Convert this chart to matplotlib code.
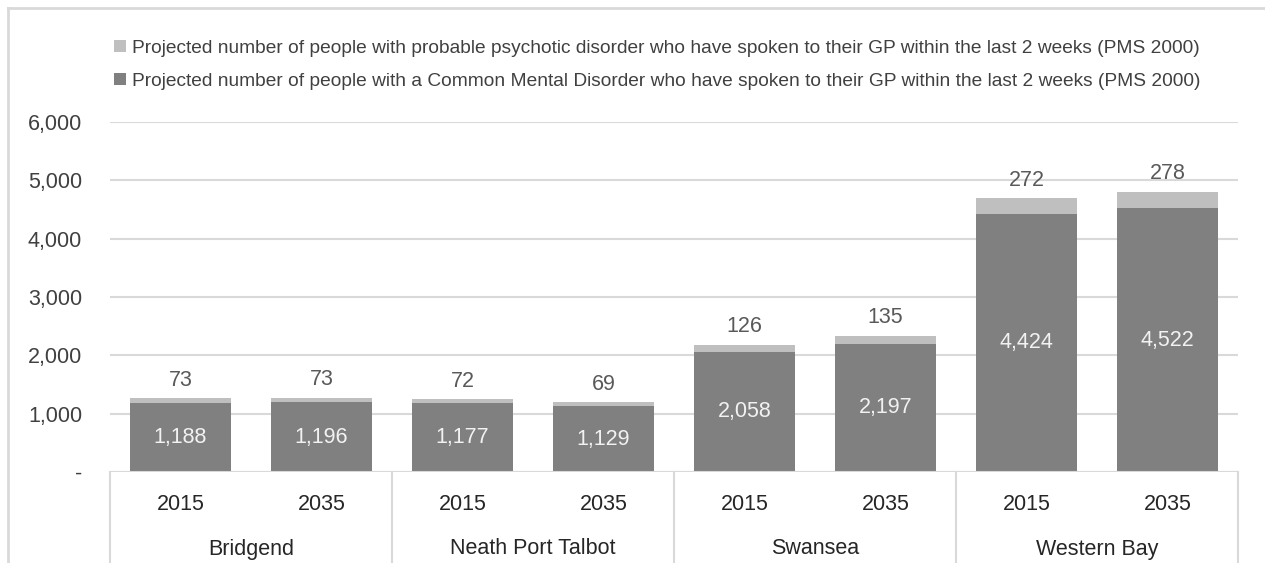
import matplotlib.pyplot as plt

plt.rcParams['font.family'] = ['Liberation Sans', 'DejaVu Sans']

areas = ['Bridgend', 'Neath Port Talbot', 'Swansea', 'Western Bay']
years = ['2015', '2035']
cmd = [1188, 1196, 1177, 1129, 2058, 2197, 4424, 4522]
psych = [73, 73, 72, 69, 126, 135, 272, 278]
yticks = [0, 1000, 2000, 3000, 4000, 5000, 6000]
lab_psych = 'Projected number of people with probable psychotic disorder who have spoken to their GP within the last 2 weeks (PMS 2000)'
lab_cmd = 'Projected number of people with a Common Mental Disorder who have spoken to their GP within the last 2 weeks (PMS 2000)'

dark = '#808080'
light = '#bfbfbf'
grid = '#d9d9d9'

fig = plt.figure(figsize=(12.65, 5.63), dpi=100)
ax = fig.add_axes([110/1265, 91/563, 1128/1265, 350/563])

x = list(range(len(cmd)))
b1 = ax.bar(x, cmd, width=0.72, color=dark, zorder=2)
b2 = ax.bar(x, psych, bottom=cmd, width=0.72, color=light, zorder=2)

for i in x:
    ax.text(i, cmd[i] / 2, f'{cmd[i]:,}', ha='center', va='center',
            color='#f2f2f2', fontsize=15.5)
    ax.annotate(f'{psych[i]:,}', (i, cmd[i] + psych[i]), xytext=(0, 13),
                textcoords='offset points', ha='center', va='center',
                color='#595959', fontsize=15.5)

ax.set_xlim(-0.5, len(cmd) - 0.5)
ax.set_ylim(0, 6000)
ax.set_yticks(yticks)
ax.set_yticklabels(['-' if v == 0 else f'{v:,}' for v in yticks])
ax.tick_params(axis='y', length=0, pad=20, labelsize=15.5, labelcolor='#404040')
ax.tick_params(axis='x', length=0, bottom=False, labelbottom=False)
ax.yaxis.grid(True, color=grid, linewidth=1.5, zorder=0)
for s in ax.spines.values():
    s.set_visible(False)

# category axis: years, groups and separators
ax.axhline(0, color=grid, linewidth=1.5, zorder=3)
trans = ax.get_xaxis_transform()
for i in x:
    ax.text(i, -32/350, years[i % 2], transform=trans, ha='center', va='center',
            fontsize=15.5, color='#262626')
for g, name in enumerate(areas):
    ax.text(2*g + 0.5, -77/350, name, transform=trans, ha='center', va='center',
            fontsize=15.5, color='#262626')
for g in range(len(areas) + 1):
    ax.plot([2*g - 0.5, 2*g - 0.5], [0, -0.3], transform=trans, color=grid,
            linewidth=1.5, clip_on=False)

# chart border (top and left)
fig.add_artist(plt.Line2D([8/1265, 1], [1 - 8/563, 1 - 8/563], color=grid, linewidth=2,
                          transform=fig.transFigure))
fig.add_artist(plt.Line2D([8/1265, 8/1265], [0, 1 - 8/563], color=grid, linewidth=2,
                          transform=fig.transFigure))

fig.legend([b2, b1], [lab_psych, lab_cmd], loc='upper left',
           bbox_to_anchor=(104/1265, 1 - 30/563), frameon=False, fontsize=13.75,
           handlelength=0.65, handleheight=0.65, handletextpad=0.3,
           labelspacing=0.84, labelcolor='#404040', borderpad=0)

fig.savefig('out.png', dpi=100)
